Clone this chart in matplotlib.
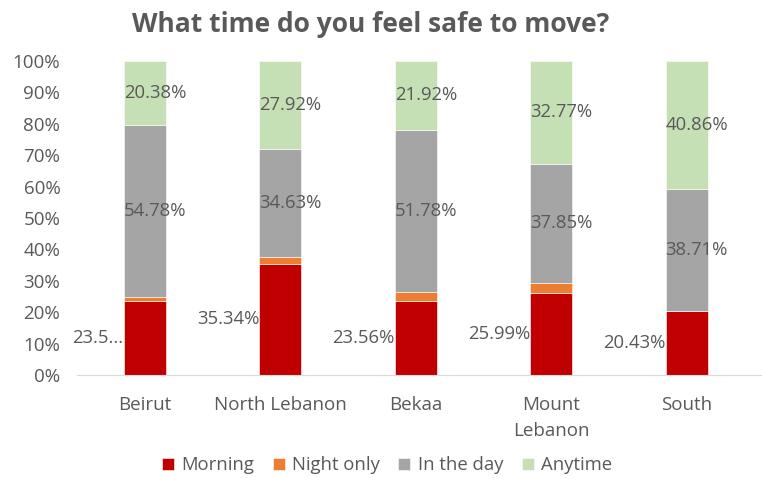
import matplotlib.pyplot as plt
import numpy as np

plt.rcParams['font.family'] = ['Open Sans', 'DejaVu Sans']

regions = ['Beirut', 'North Lebanon', 'Bekaa', 'Mount\nLebanon', 'South']
series = ['Morning', 'Night only', 'In the day', 'Anytime']
morning = [23.52, 35.34, 23.56, 25.99, 20.43]
night_only = [1.32, 2.11, 2.74, 3.39, 0.0]
in_the_day = [54.78, 34.63, 51.78, 37.85, 38.71]
anytime = [20.38, 27.92, 21.92, 32.77, 40.86]
morning_labels = ['23.5...', '35.34%', '23.56%', '25.99%', '20.43%']

colors = ['#C00000', '#ED7D31', '#A5A5A5', '#C5E0B4']
grey = '#595959'

fig = plt.figure(figsize=(7.62, 4.78), dpi=100)
ax = fig.add_axes([0.101, 0.2155, 0.889, 0.657])

x = np.arange(len(regions))
w = 0.31
bottom = np.zeros(len(regions))
data = [morning, night_only, in_the_day, anytime]
for vals, name, c in zip(data, series, colors):
    vals = np.array(vals)
    ax.bar(x, vals, w, bottom=bottom, color=c, label=name,
           edgecolor='white', linewidth=0.4)
    mids = bottom + vals / 2
    if name == 'Morning':
        for xi, m, t in zip(x, mids, morning_labels):
            ax.text(xi - w / 2, m, t, ha='right', va='center',
                    fontsize=13.3, color=grey)
    elif name in ('In the day', 'Anytime'):
        for xi, m, v in zip(x, mids, vals):
            ax.text(xi - w / 2, m, f'{v:.2f}%', ha='left', va='center',
                    fontsize=13.3, color=grey)
    bottom = bottom + vals

ax.set_xlim(-0.5, len(regions) - 0.5)
ax.set_ylim(0, 100)
ax.set_yticks(np.arange(0, 101, 10))
ax.set_yticklabels([f'{v}%' for v in range(0, 101, 10)])
ax.set_xticks(x)
ax.set_xticklabels(regions, linespacing=1.55)
ax.tick_params(axis='both', length=0, labelsize=13.5, colors=grey)
ax.tick_params(axis='x', pad=15)
ax.tick_params(axis='y', pad=12)
for s in ['top', 'right', 'left']:
    ax.spines[s].set_visible(False)
ax.spines['bottom'].set_color('#D9D9D9')
ax.spines['bottom'].set_bounds(-0.5, 4.55)

fig.suptitle('What time do you feel safe to move?', x=0.487, y=0.978,
             fontsize=19, fontweight='bold', color=grey)

leg = fig.legend(loc='lower center', ncol=4, bbox_to_anchor=(0.508, -0.027),
                 frameon=False, fontsize=13.3, handlelength=0.65,
                 handleheight=0.65, handletextpad=0.4, columnspacing=1.0)
for t in leg.get_texts():
    t.set_color(grey)

fig.savefig('out.png', dpi=100)
